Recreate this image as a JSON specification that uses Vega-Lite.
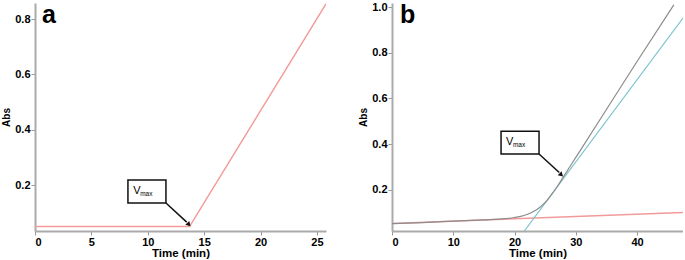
{
  "$schema": "https://vega.github.io/schema/vega-lite/v6.json",
  "padding": {"left": 1, "top": 1, "right": 0, "bottom": 0},
  "spacing": 32,
  "background": "white",
  "config": {
    "font": "Liberation Sans",
    "view": {"stroke": null},
    "text": {"font": "Liberation Sans"},
    "axis": {
      "grid": false,
      "domainColor": "#aaaaaa",
      "domainWidth": 2,
      "tickColor": "#999999",
      "tickSize": 4,
      "labelFont": "Liberation Sans",
      "labelFontWeight": "bold",
      "labelFontSize": 11,
      "labelColor": "#000000",
      "labelPadding": 1,
      "titleFont": "Liberation Sans",
      "titleFontWeight": "bold",
      "titleColor": "#000000"
    }
  },
  "datasets": {
    "a_curve": [
      {"t": 0, "abs": 0.05},
      {"t": 13.7, "abs": 0.05},
      {"t": 25.8, "abs": 0.855}
    ],
    "a_box": [{"x": 8.24, "x2": 11.61, "y": 0.218, "y2": 0.135}],
    "a_arrow": [{"x": 11.61, "y": 0.135, "x2": 13.45, "y2": 0.066}],
    "a_head": [{"x": 13.6, "y": 0.059}],
    "a_text": [{"x": 8.7, "y": 0.178, "label": "V", "sub": "max"}],
    "a_panel": [{"x": 0.62, "y": 0.787, "label": "a"}],
    "b_red": [
      {"t": 0, "abs": 0.053},
      {"t": 47.5, "abs": 0.101}
    ],
    "b_teal": [
      {"t": 21.6, "abs": 0.02},
      {"t": 47.5, "abs": 0.952}
    ],
    "b_grey": [
      {"t": 0, "abs": 0.052},
      {"t": 5, "abs": 0.057},
      {"t": 10, "abs": 0.063},
      {"t": 15, "abs": 0.069},
      {"t": 18, "abs": 0.073},
      {"t": 20, "abs": 0.079},
      {"t": 21, "abs": 0.084},
      {"t": 22, "abs": 0.092},
      {"t": 23, "abs": 0.104},
      {"t": 24, "abs": 0.121},
      {"t": 25, "abs": 0.145},
      {"t": 26, "abs": 0.178},
      {"t": 27, "abs": 0.216},
      {"t": 28, "abs": 0.258},
      {"t": 29, "abs": 0.3},
      {"t": 30, "abs": 0.342},
      {"t": 35, "abs": 0.552},
      {"t": 40, "abs": 0.762},
      {"t": 46, "abs": 1.01}
    ],
    "b_box": [{"x": 17.8, "x2": 24.0, "y": 0.457, "y2": 0.357}],
    "b_arrow": [{"x": 24.0, "y": 0.357, "x2": 27.3, "y2": 0.276}],
    "b_head": [{"x": 27.55, "y": 0.268}],
    "b_text": [{"x": 18.6, "y": 0.41, "label": "V", "sub": "max"}],
    "b_panel": [{"x": 1.3, "y": 0.93, "label": "b"}]
  },
  "hconcat": [
    {
      "width": 291,
      "height": 228,
      "encoding": {
        "x": {"type": "quantitative", "scale": {"domain": [0, 25.8], "nice": false, "zero": false},
          "axis": {"values": [0, 5, 10, 15, 20, 25], "title": "Time (min)", "titleFontSize": 11.5, "titlePadding": 0}},
        "y": {"type": "quantitative", "scale": {"domain": [0.034, 0.858], "nice": false, "zero": false},
          "axis": {"values": [0.2, 0.4, 0.6, 0.8], "format": ".1f", "title": "Abs", "titleFontSize": 10, "titlePadding": 3}}
      },
      "layer": [
        {
          "data": {"name": "a_curve"},
          "mark": {"type": "line", "color": "#f49a9a", "strokeWidth": 1.5, "clip": true},
          "encoding": {"x": {"field": "t"}, "y": {"field": "abs"}}
        },
        {
          "data": {"name": "a_box"},
          "mark": {"type": "rect", "fill": "white", "stroke": "#111111", "strokeWidth": 1.5},
          "encoding": {"x": {"field": "x"}, "x2": {"field": "x2"}, "y": {"field": "y"}, "y2": {"field": "y2"}}
        },
        {
          "data": {"name": "a_arrow"},
          "mark": {"type": "rule", "color": "#111111", "strokeWidth": 1.5},
          "encoding": {"x": {"field": "x"}, "x2": {"field": "x2"}, "y": {"field": "y"}, "y2": {"field": "y2"}}
        },
        {
          "data": {"name": "a_head"},
          "mark": {"type": "point", "shape": "triangle", "filled": true, "color": "#111111", "size": 30, "angle": 136, "opacity": 1},
          "encoding": {"x": {"field": "x"}, "y": {"field": "y"}}
        },
        {
          "data": {"name": "a_text"},
          "mark": {"type": "text", "align": "left", "baseline": "middle", "fontSize": 11, "font": "Liberation Sans", "color": "#000000"},
          "encoding": {"x": {"field": "x"}, "y": {"field": "y"}, "text": {"field": "label"}}
        },
        {
          "data": {"name": "a_text"},
          "mark": {"type": "text", "align": "left", "baseline": "middle", "fontSize": 6.5, "font": "Liberation Sans", "dx": 7, "dy": 3, "color": "#000000"},
          "encoding": {"x": {"field": "x"}, "y": {"field": "y"}, "text": {"field": "sub"}}
        },
        {
          "data": {"name": "a_panel"},
          "mark": {"type": "text", "align": "left", "baseline": "alphabetic", "fontSize": 25, "font": "Liberation Sans", "fontWeight": "bold", "color": "#000000"},
          "encoding": {"x": {"field": "x"}, "y": {"field": "y"}, "text": {"field": "label"}}
        }
      ]
    },
    {
      "width": 291,
      "height": 228,
      "encoding": {
        "x": {"type": "quantitative", "scale": {"domain": [0, 47.5], "nice": false, "zero": false},
          "axis": {"values": [0, 10, 20, 30, 40], "title": "Time (min)", "titleFontSize": 11.5, "titlePadding": 0}},
        "y": {"type": "quantitative", "scale": {"domain": [0.02, 1.018], "nice": false, "zero": false},
          "axis": {"values": [0.2, 0.4, 0.6, 0.8, 1.0], "format": ".1f", "title": "Abs", "titleFontSize": 10, "titlePadding": 3}}
      },
      "layer": [
        {
          "data": {"name": "b_red"},
          "mark": {"type": "line", "color": "#f29a9a", "strokeWidth": 1.5, "clip": true},
          "encoding": {"x": {"field": "t"}, "y": {"field": "abs"}}
        },
        {
          "data": {"name": "b_teal"},
          "mark": {"type": "line", "color": "#7cc3cc", "strokeWidth": 1.2, "clip": true},
          "encoding": {"x": {"field": "t"}, "y": {"field": "abs"}}
        },
        {
          "data": {"name": "b_grey"},
          "mark": {"type": "line", "color": "#8c8c8c", "strokeWidth": 1.2, "clip": true, "interpolate": "monotone"},
          "encoding": {"x": {"field": "t"}, "y": {"field": "abs"}}
        },
        {
          "data": {"name": "b_box"},
          "mark": {"type": "rect", "fill": "white", "stroke": "#111111", "strokeWidth": 1.5},
          "encoding": {"x": {"field": "x"}, "x2": {"field": "x2"}, "y": {"field": "y"}, "y2": {"field": "y2"}}
        },
        {
          "data": {"name": "b_arrow"},
          "mark": {"type": "rule", "color": "#111111", "strokeWidth": 1.5},
          "encoding": {"x": {"field": "x"}, "x2": {"field": "x2"}, "y": {"field": "y"}, "y2": {"field": "y2"}}
        },
        {
          "data": {"name": "b_head"},
          "mark": {"type": "point", "shape": "triangle", "filled": true, "color": "#111111", "size": 30, "angle": 135, "opacity": 1},
          "encoding": {"x": {"field": "x"}, "y": {"field": "y"}}
        },
        {
          "data": {"name": "b_text"},
          "mark": {"type": "text", "align": "left", "baseline": "middle", "fontSize": 11, "font": "Liberation Sans", "color": "#000000"},
          "encoding": {"x": {"field": "x"}, "y": {"field": "y"}, "text": {"field": "label"}}
        },
        {
          "data": {"name": "b_text"},
          "mark": {"type": "text", "align": "left", "baseline": "middle", "fontSize": 6.5, "font": "Liberation Sans", "dx": 7, "dy": 3, "color": "#000000"},
          "encoding": {"x": {"field": "x"}, "y": {"field": "y"}, "text": {"field": "sub"}}
        },
        {
          "data": {"name": "b_panel"},
          "mark": {"type": "text", "align": "left", "baseline": "alphabetic", "fontSize": 25, "font": "Liberation Sans", "fontWeight": "bold", "color": "#000000"},
          "encoding": {"x": {"field": "x"}, "y": {"field": "y"}, "text": {"field": "label"}}
        }
      ]
    }
  ]
}
